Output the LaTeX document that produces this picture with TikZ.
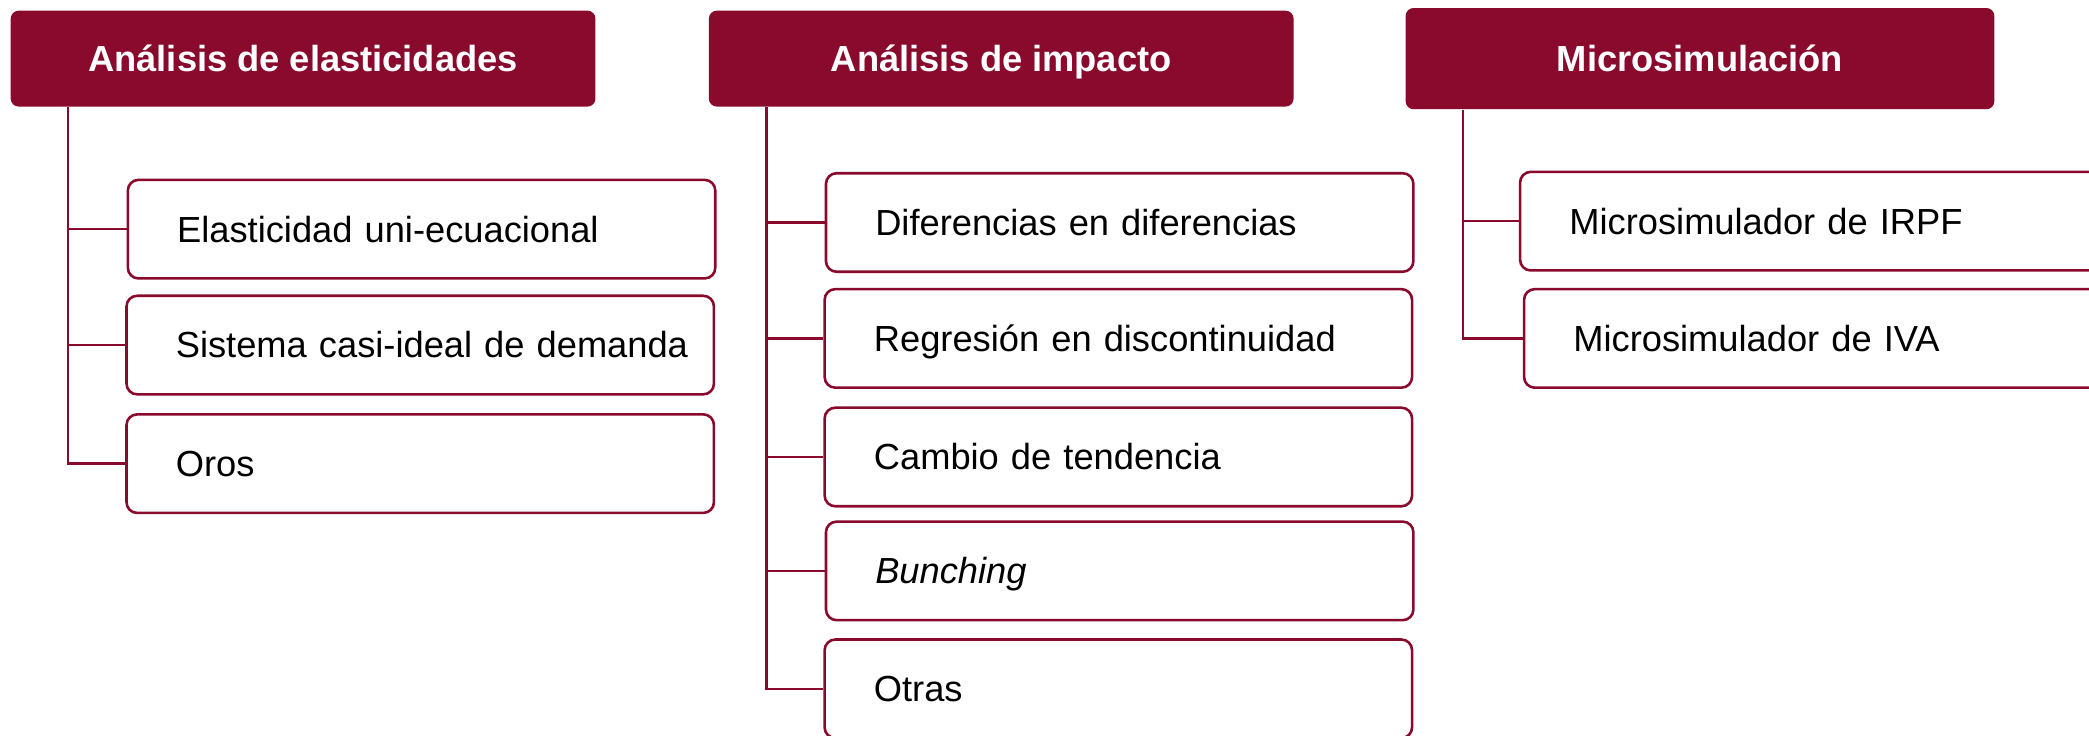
\documentclass[tikz,border=0pt]{standalone}
\usepackage{fontspec}
\setmainfont{Liberation Sans}
\usepackage{tikz}
\usetikzlibrary{calc,positioning}
\definecolor{wine}{RGB}{138,10,45}

\tikzset{
  head/.style={fill=wine, text=white, font=\fontsize{15.5}{18}\selectfont\bfseries,
    rounded corners=0.12cm, minimum width=8.78cm, minimum height=1.44cm, inner sep=0pt,
    text height=14.4pt, text depth=3.4pt},
  leaf/.style={draw=wine, line width=1.1pt, rounded corners=0.16cm, fill=white,
    minimum height=1.48cm, text width=7.34cm, inner xsep=0.74cm, inner ysep=0pt,
    align=left, anchor=west, font=\fontsize{15.5}{18}\selectfont,
    text height=14.4pt, text depth=3.4pt},
  branch/.style={draw=wine, line width=1.1pt}
}

\begin{document}
\begin{tikzpicture}[x=0.02cm, y=-0.02cm]
  \useasboundingbox (0,0) rectangle (1568,552);
  % column heads
  \node[head] (H1) at (227.5,44) {Análisis de elasticidades};
  \node[head] (H2) at (751.5,44) {Análisis de impacto};
  \node[head, minimum width=8.84cm, minimum height=1.52cm] (H3) at (1276,44) {Microsimulación};
  % tree branches (drawn first, boxes cover their ends)
  \foreach \h/\c/\x/\y in {H1/E1/95/172, H1/E2/94/259, H1/E3/94/348,
      H2/I1/619/167, H2/I2/618/254, H2/I3/618/343, H2/I4/619/428.5, H2/I5/618/517,
      H3/M1/1140/166, H3/M2/1143/254}{
    \coordinate (\c) at (\x,\y);
    \draw[branch] ($(\h.south west)+(43.5,0)$) |- (\c);
  }
  % leaves
  \foreach \c/\txt in {E1/Elasticidad uni-ecuacional, E2/Sistema casi-ideal de demanda, E3/Oros,
      I1/Diferencias en diferencias, I2/Regresión en discontinuidad, I3/Cambio de tendencia,
      I4/{\textit{Bunching}}, I5/Otras,
      M1/Microsimulador de IRPF, M2/Microsimulador de IVA}{
    \node[leaf] (\c-box) at (\c) {\mbox{\txt}};
  }
\end{tikzpicture}
\end{document}
